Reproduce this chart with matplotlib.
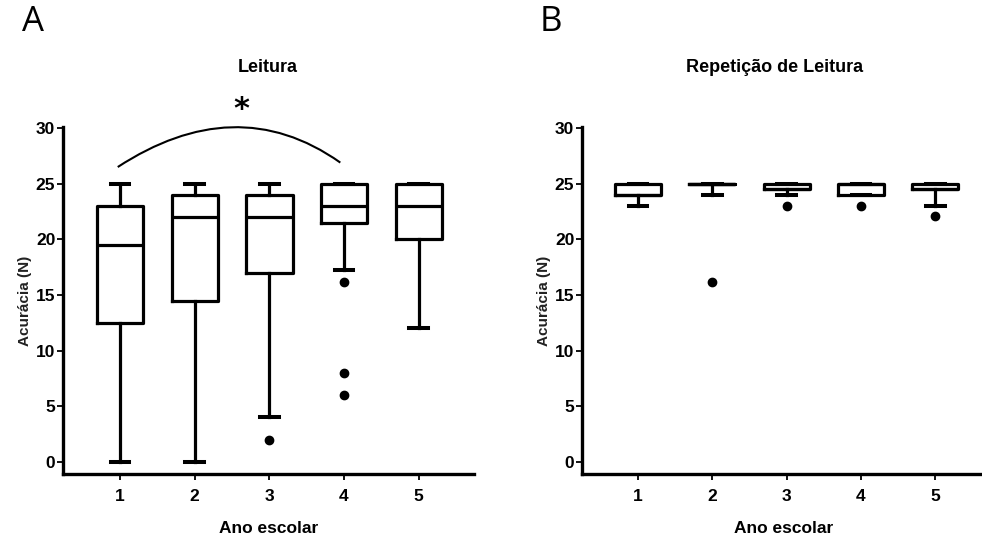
import matplotlib
matplotlib.use("Agg")
import matplotlib.pyplot as plt
from matplotlib import font_manager
from matplotlib.path import Path
from matplotlib.patches import PathPatch

# --- fonts: narrow Arial-like if available ---
names = {f.name for f in font_manager.fontManager.ttflist}
NARROW = "Liberation Sans Narrow" if "Liberation Sans Narrow" in names else "Liberation Sans"
plt.rcParams['font.family'] = [NARROW, 'DejaVu Sans']

# --- data ---
grades = [1, 2, 3, 4, 5]

# A: Leitura
a_q1 = [12.5, 14.5, 17, 21.5, 20]
a_med = [19.5, 22, 22, 23, 23]
a_q3 = [23, 24, 24, 25, 25]
a_whislo = [0, 0, 4, 17.2, 12]
a_whishi = [25, 25, 25, 25, 25]
a_fliers = [[], [], [2], [16.2, 8, 6], []]

# B: Repetição de Leitura
b_q1 = [24, 25, 24.5, 24, 24.5]
b_med = [24, 25, 24.5, 25, 24.5]
b_q3 = [25, 25, 25, 25, 25]
b_whislo = [23, 24, 24, 24, 23]
b_whishi = [25, 25, 25, 25, 25]
b_fliers = [[], [16.2], [23], [23], [22.1]]

yticks = [0, 5, 10, 15, 20, 25, 30]


def stats(q1, med, q3, lo, hi, fl):
    return [dict(q1=a, med=m, q3=b, whislo=l, whishi=h, fliers=f)
            for a, m, b, l, h, f in zip(q1, med, q3, lo, hi, fl)]


W, H = 982, 542
fig = plt.figure(figsize=(W / 100, H / 100), dpi=100)

LW = 2.3
y0, y1 = 127, 474  # pixel rows of axis top / x-axis line


def make_ax(left, right, xlim_l, xlim_r):
    ax = fig.add_axes([left / W, 1 - y1 / H, (right - left) / W, (y1 - y0) / H])
    ax.set_xlim(xlim_l, xlim_r)
    ax.set_ylim(-1.1, 30.1)
    for s in ('top', 'right'):
        ax.spines[s].set_visible(False)
    for s in ('left', 'bottom'):
        ax.spines[s].set_linewidth(2.4)
    ax.set_yticks(yticks)
    ax.tick_params(axis='y', length=4, width=1.3, pad=1.5, labelsize=12.5)
    ax.tick_params(axis='x', length=4, width=1.3, pad=7, labelsize=12.5)
    ax.set_ylabel('Acurácia (N)', fontsize=11, fontweight='bold', labelpad=3, color='#222')
    ax.set_xlabel('Ano escolar', fontsize=12.5, fontweight='bold', labelpad=12)
    return ax


def draw_box(ax, st):
    ax.bxp(st, positions=grades, widths=0.62, capwidths=0.25, showfliers=True,
           boxprops=dict(linewidth=LW, color='black'),
           medianprops=dict(linewidth=LW, color='black'),
           whiskerprops=dict(linewidth=LW, color='black'),
           capprops=dict(linewidth=LW + 0.6, color='black'),
           flierprops=dict(marker='o', markersize=6, markerfacecolor='black',
                           markeredgecolor='black'))
    ax.set_xticks(grades)
    ax.set_xticklabels([str(g) for g in grades])
    for t in ax.get_xticklabels() + ax.get_yticklabels():
        t.set_fontweight('bold')


axA = make_ax(63, 474, 0.237, 5.74)
draw_box(axA, stats(a_q1, a_med, a_q3, a_whislo, a_whishi, a_fliers))

axB = make_ax(582, 985, 0.246, 5.67)
draw_box(axB, stats(b_q1, b_med, b_q3, b_whislo, b_whishi, b_fliers))

# significance arc between group 1 and group 4
g_from, g_to = 1, 4
verts = [(g_from - 0.03, 26.5), (g_from + 1.0, 31.0), (g_to - 1.0, 31.4), (g_to - 0.05, 26.9)]
arc = PathPatch(Path(verts, [Path.MOVETO, Path.CURVE4, Path.CURVE4, Path.CURVE4]),
                fill=False, lw=1.5, color='black', clip_on=False)
axA.add_patch(arc)
fig.text(241 / W, 1 - 109 / H, '*', fontsize=22, fontweight='bold',
         ha='center', va='center', family='DejaVu Sans')

# titles and panel letters
fig.text(268 / W, 1 - 68 / H, 'Leitura', fontsize=13, fontweight='bold',
         ha='center', va='center')
fig.text(775 / W, 1 - 68 / H, 'Repetição de Leitura', fontsize=13, fontweight='bold',
         ha='center', va='center')
fig.text(33 / W, 1 - 22 / H, 'A', fontsize=25, ha='center', va='center',
         family=['Open Sans', 'DejaVu Sans'])
fig.text(551 / W, 1 - 22 / H, 'B', fontsize=25, ha='center', va='center',
         family=['Open Sans', 'DejaVu Sans'])

fig.savefig('out.png', dpi=100)
